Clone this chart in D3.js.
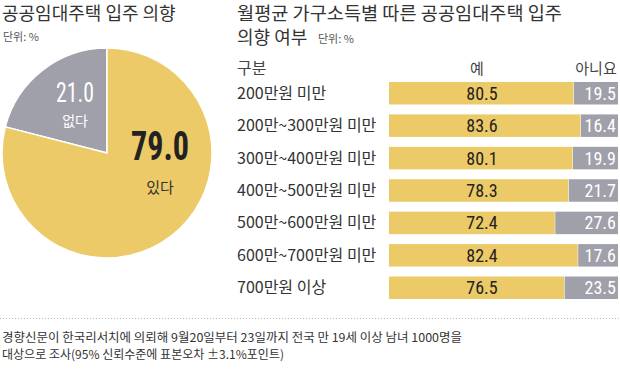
<!DOCTYPE html>
<html>
<head>
<meta charset="utf-8">
<script src="https://cdn.jsdelivr.net/npm/d3@7"></script>
<style>
  body { margin: 0; background: #fff; }
  text { font-family: "Noto Sans CJK KR", sans-serif; }
  .num { font-family: "Liberation Sans Narrow", "Roboto Condensed", sans-serif; }
</style>
</head>
<body>
<div id="chart"></div>
<script>
// pie: 공공임대주택 입주 의향
var pieLabels = ["없다", "있다"];
var pieValues = [21.0, 79.0];

// bars: 월평균 가구소득별
var categories = ["200만원 미만", "200만~300만원 미만", "300만~400만원 미만",
    "400만~500만원 미만", "500만~600만원 미만", "600만~700만원 미만", "700만원 이상"];
var yesValues = [80.5, 83.6, 80.1, 78.3, 72.4, 82.4, 76.5];
var noValues = [19.5, 16.4, 19.9, 21.7, 27.6, 17.6, 23.5];

var width = 620, height = 372;
var yellow = "#ecca67", gray = "#9fa0aa", ink = "#333";

var svg = d3.select("#chart").append("svg")
    .attr("width", width)
    .attr("height", height);

// titles
svg.append("text").attr("x", 2).attr("y", 20)
    .style("font-size", "18px").style("fill", ink)
    .text("공공임대주택 입주 의향");
svg.append("text").attr("x", 3).attr("y", 41)
    .style("font-size", "11px").style("fill", "#555")
    .text("단위: %");

var t2 = svg.append("text")
    .style("font-size", "18px").style("fill", ink);
t2.append("tspan").attr("x", 237).attr("y", 20)
    .attr("textLength", 325).attr("lengthAdjust", "spacingAndGlyphs")
    .text("월평균 가구소득별 따른 공공임대주택 입주");
t2.append("tspan").attr("x", 237).attr("y", 44)
    .text("의향 여부");
t2.append("tspan").attr("x", 318).attr("y", 43)
    .style("font-size", "11px").style("fill", "#555")
    .text("단위: %");

// pie
var cx = 107, cy = 153, r = 105;
var pie = d3.pie().sort(null)
    .startAngle(-pieValues[0] / 100 * 2 * Math.PI)
    .endAngle(2 * Math.PI - pieValues[0] / 100 * 2 * Math.PI);
var arc = d3.arc().innerRadius(0).outerRadius(r);

var pg = svg.append("g").attr("transform", "translate(" + cx + "," + cy + ")");
pg.selectAll("path")
    .data(pie(pieValues))
    .enter().append("path")
    .attr("d", arc)
    .style("fill", function(d, i) { return i === 0 ? gray : yellow; })
    .style("stroke", "#fff")
    .style("stroke-width", 1.5);

// pie labels
pg.append("text").attr("class", "num")
    .attr("x", -51).attr("y", -51)
    .attr("textLength", 38).attr("lengthAdjust", "spacingAndGlyphs")
    .style("font-size", "28px").style("fill", "#fff")
    .text(pieValues[0].toFixed(1));
pg.append("text")
    .attr("x", -32).attr("y", -27)
    .attr("text-anchor", "middle")
    .style("font-size", "14px").style("fill", "#fff")
    .text(pieLabels[0]);
pg.append("text").attr("class", "num")
    .attr("x", 24).attr("y", 7)
    .attr("textLength", 58).attr("lengthAdjust", "spacingAndGlyphs")
    .style("font-size", "41px").style("font-weight", "bold").style("fill", "#222")
    .text(pieValues[1].toFixed(1));
pg.append("text")
    .attr("x", 53).attr("y", 40)
    .attr("text-anchor", "middle")
    .style("font-size", "15px").style("fill", ink)
    .text(pieLabels[1]);

// bars
var x = d3.scaleLinear().domain([0, 100]).range([389, 618]);
var y = d3.scaleBand().domain(categories).range([82, 299]).paddingInner(0.306).paddingOuter(0);

svg.append("text").attr("x", 237).attr("y", 74)
    .style("font-size", "16px").style("fill", "#444").text("구분");
svg.append("text").attr("x", 477).attr("y", 74).attr("text-anchor", "middle")
    .style("font-size", "15px").style("fill", "#444").text("예");
svg.append("text").attr("x", 596).attr("y", 74).attr("text-anchor", "middle")
    .style("font-size", "15px").style("fill", "#444").text("아니요");

var rows = svg.append("g").selectAll("g")
    .data(categories)
    .enter().append("g")
    .attr("transform", function(d) { return "translate(0," + y(d) + ")"; });

rows.append("text")
    .attr("x", 237).attr("y", y.bandwidth() / 2 + 5.5)
    .style("font-size", "16px").style("fill", ink)
    .text(function(d) { return d; });

rows.append("rect")
    .attr("x", x(0))
    .attr("width", function(d, i) { return x(yesValues[i]) - x(0); })
    .attr("height", y.bandwidth())
    .style("fill", yellow);

rows.append("rect")
    .attr("x", function(d, i) { return x(yesValues[i]) + 0.5; })
    .attr("width", function(d, i) { return x(100) - x(yesValues[i]) - 0.5; })
    .attr("height", y.bandwidth())
    .style("fill", gray);

rows.append("text").attr("class", "num")
    .attr("x", 482).attr("y", y.bandwidth() / 2 + 6.5)
    .attr("text-anchor", "middle")
    .style("font-size", "18px").style("fill", "#222")
    .text(function(d, i) { return yesValues[i].toFixed(1); });

rows.append("text").attr("class", "num")
    .attr("x", 616).attr("y", y.bandwidth() / 2 + 6.5)
    .attr("text-anchor", "end")
    .style("font-size", "18px").style("fill", "#fff")
    .text(function(d, i) { return noValues[i].toFixed(1); });

// dotted separator
svg.append("line")
    .attr("x1", 0).attr("x2", width)
    .attr("y1", 318.5).attr("y2", 318.5)
    .style("stroke", "#bbb").style("stroke-dasharray", "1,2");

// footnote
var note = svg.append("text")
    .style("font-size", "12px").style("fill", ink);
note.append("tspan").attr("x", 2).attr("y", 342)
    .attr("textLength", 460).attr("lengthAdjust", "spacingAndGlyphs")
    .text("경향신문이 한국리서치에 의뢰해 9월20일부터 23일까지 전국 만 19세 이상 남녀 1000명을");
note.append("tspan").attr("x", 2).attr("y", 359)
    .attr("textLength", 282).attr("lengthAdjust", "spacingAndGlyphs")
    .text("대상으로 조사(95% 신뢰수준에 표본오차 ±3.1%포인트)");
</script>
</body>
</html>
